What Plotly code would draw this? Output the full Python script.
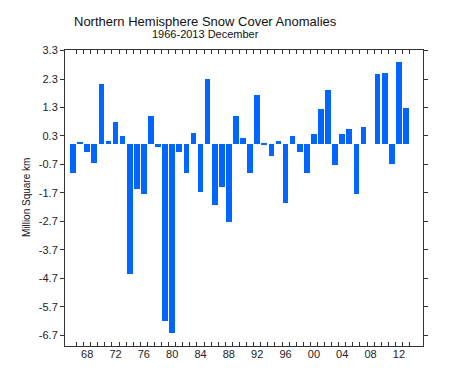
import plotly.graph_objects as go

years = list(range(1966, 2014))
anomalies = [-1.01, 0.09, -0.25, -0.66, 2.14, 0.14, 0.80, 0.30, -4.54, -1.56,
             -1.75, 0.99, -0.09, -6.19, -6.63, -0.26, -1.01, 0.40, -1.68, 2.30,
             -2.14, -1.50, -2.72, 0.99, 0.23, -0.99, 1.75, 0.05, -0.40, 0.11,
             -2.07, 0.29, -0.27, -1.01, 0.37, 1.26, 1.90, -0.73, 0.37, 0.53,
             -1.75, 0.60, 0.0, 2.48, 2.51, -0.70, 2.89, 1.28]
label_years = [1968, 1972, 1976, 1980, 1984, 1988, 1992, 1996, 2000, 2004, 2008, 2012]
label_text = ["68", "72", "76", "80", "84", "88", "92", "96", "00", "04", "08", "12"]
y_ticks = [3.3, 2.3, 1.3, 0.3, -0.7, -1.7, -2.7, -3.7, -4.7, -5.7, -6.7]
y_tick_text = ["%.1f" % v for v in y_ticks]

font = "Liberation Sans, Arial, sans-serif"
xrange = [1964.87, 2015.4]
yrange = [-7.08, 3.32]

fig = go.Figure()
fig.add_trace(go.Bar(x=years, y=anomalies, width=0.8, marker=dict(color="#0066FF", line=dict(width=0)),
                     hoverinfo="x+y", showlegend=False))
fig.add_trace(go.Scatter(x=[years[0]], y=[0], xaxis="x2", mode="markers",
                         marker=dict(opacity=0), showlegend=False, hoverinfo="skip"))

# page body has an 8px default margin, so the figure is sized/offset to compensate
fig.update_layout(
    width=434, height=364,
    margin=dict(l=56.5, r=18.5, t=41.5, b=18),
    paper_bgcolor="white", plot_bgcolor="white",
    font=dict(family=font, size=11, color="#222"),
    bargap=0,
    xaxis=dict(range=xrange, tickmode="array", tickvals=[y + 0.5 for y in years],
               ticks="inside", ticklen=4, tickcolor="#333", tickwidth=1,
               mirror="ticks", showline=True, linecolor="#333", linewidth=1,
               showticklabels=False, showgrid=False, zeroline=False),
    xaxis2=dict(range=xrange, overlaying="x", anchor="y", side="bottom", matches="x",
                tickmode="array", tickvals=label_years, ticktext=label_text,
                ticks="", showline=False, showgrid=False, zeroline=False,
                tickfont=dict(size=11, color="#222")),
    yaxis=dict(range=yrange, tickmode="array", tickvals=y_ticks, ticktext=y_tick_text,
               ticks="outside", ticklen=4, tickcolor="#333", mirror="ticks",
               showline=True, linecolor="#333", linewidth=1,
               showgrid=False, zeroline=False, tickfont=dict(size=11, color="#222")),
    annotations=[
        dict(text="Northern Hemisphere Snow Cover Anomalies", xref="paper", yref="paper",
             x=0.393, y=1.097, xanchor="center", yanchor="middle", showarrow=False,
             font=dict(size=13, color="#111", family=font)),
        dict(text="1966-2013 December", xref="paper", yref="paper",
             x=0.393, y=1.054, xanchor="center", yanchor="middle", showarrow=False,
             font=dict(size=11, color="#111", family=font)),
        dict(text="Million Square km", xref="paper", yref="paper",
             x=(25.5 - 64.5) / 359, y=0.5, xanchor="center", yanchor="middle",
             textangle=-90, showarrow=False, font=dict(size=10, color="#111", family=font)),
    ],
)

fig.write_html("out.html")
